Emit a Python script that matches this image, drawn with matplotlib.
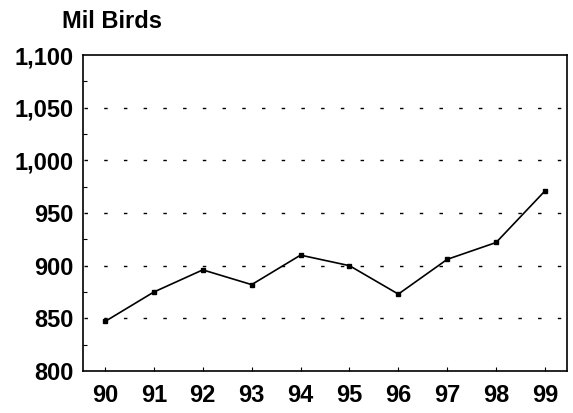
import matplotlib
matplotlib.use('Agg')
import matplotlib.pyplot as plt
from matplotlib.ticker import MultipleLocator, FuncFormatter

years = ['90', '91', '92', '93', '94', '95', '96', '97', '98', '99']
birds = [847, 875, 896, 882, 910, 900, 873, 906, 922, 971]

plt.rcParams['font.family'] = ['Liberation Sans', 'DejaVu Sans']

fig = plt.figure(figsize=(5.73, 4.13), dpi=100)
ax = fig.add_axes([83 / 573, 1 - 371 / 413, 484 / 573, 316 / 413])

x = list(range(len(years)))
ax.plot(x, birds, color='black', linewidth=1.2, marker='s', markersize=3.5)

ax.set_xlim(-0.45, len(years) - 1 + 0.45)
ax.set_ylim(800, 1100)
ax.set_xticks(x)
ax.set_xticklabels(years)
ax.yaxis.set_major_locator(MultipleLocator(50))
ax.yaxis.set_minor_locator(MultipleLocator(25))
ax.yaxis.set_major_formatter(FuncFormatter(lambda v, p: '{:,.0f}'.format(v)))

# sparse dashed grid lines
for v in [850, 900, 950, 1000, 1050]:
    ax.axhline(v, color='black', linewidth=1.0, linestyle=(13.5, (2.5, 11.7)), zorder=0)

ax.tick_params(axis='both', direction='in', length=3, width=0.8, labelsize=17)
ax.tick_params(axis='y', which='minor', direction='in', length=3, width=0.8)
ax.tick_params(axis='x', pad=9)
ax.tick_params(axis='y', pad=7, length=0)
for lbl in ax.get_xticklabels() + ax.get_yticklabels():
    lbl.set_fontweight('bold')
for s in ax.spines.values():
    s.set_linewidth(1.2)

fig.text(62 / 573, 1 - 22 / 413, 'Mil Birds', fontsize=17, fontweight='bold', va='center', ha='left')

fig.savefig('out.png', dpi=100)
